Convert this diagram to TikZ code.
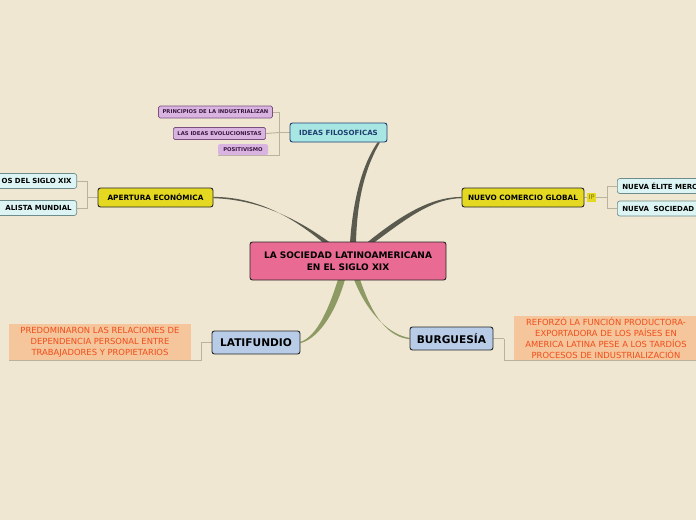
\documentclass[tikz,border=0pt]{standalone}
\usepackage{fontspec}
\setmainfont{DejaVu Sans}
\usepackage{xcolor}
\usetikzlibrary{calc}

\definecolor{paper}{HTML}{EFE7D2}
\definecolor{rootpink}{HTML}{E96A93}
\definecolor{ideacyan}{HTML}{A8E6E4}
\definecolor{ideablue}{HTML}{1F3E6E}
\definecolor{lilac}{HTML}{D9B4E1}
\definecolor{lilacline}{HTML}{7A4F80}
\definecolor{lilactext}{HTML}{3A1840}
\definecolor{yellowbox}{HTML}{E4D820}
\definecolor{palecyan}{HTML}{DCF4F3}
\definecolor{paleline}{HTML}{6E8C8C}
\definecolor{bluegrey}{HTML}{B8CCE7}
\definecolor{notefill}{HTML}{F5C59B}
\definecolor{notetext}{HTML}{F04E1A}
\definecolor{darkbranch}{HTML}{5B5A4F}
\definecolor{greenbranch}{HTML}{8E9A63}
\definecolor{twig}{HTML}{B9B29C}

\pgfdeclarelayer{paperlayer}
\pgfdeclarelayer{branchlayer}
\pgfsetlayers{paperlayer,branchlayer,main}

\begin{document}
\begin{tikzpicture}[
  x=1pt, y=-1pt,
  box/.style={draw, rounded corners=2.5pt, line width=0.9pt, inner sep=0pt, align=center},
  rootbox/.style={box, fill=rootpink, draw=black!85, minimum width=196pt, minimum height=38pt, font=\bfseries\fontsize{9}{11.5}\selectfont},
  ideabox/.style={box, fill=ideacyan, draw=ideablue, text=ideablue, minimum width=97pt, minimum height=19pt, font=\bfseries\fontsize{7.1}{8}\selectfont},
  smallbox/.style={box, rounded corners=1.5pt, line width=0.7pt, fill=lilac, draw=lilacline, text=lilactext, minimum height=12pt, inner xsep=4pt, font=\bfseries\fontsize{5.3}{6}\selectfont},
  yellbox/.style={box, fill=yellowbox, draw=black!85, minimum height=19pt, font=\bfseries\fontsize{7.3}{8}\selectfont},
  cyanbox/.style={box, line width=0.7pt, fill=palecyan, draw=paleline, minimum height=15pt, inner xsep=5pt, text width=100pt, font=\bfseries\fontsize{7}{8}\selectfont},
  subbox/.style={box, fill=bluegrey, draw=black!85, minimum height=23pt, font=\bfseries\fontsize{10.6}{12}\selectfont},
  note/.style={fill=notefill, text=notetext, inner sep=0pt, align=center, font=\fontsize{8.4}{10.8}\selectfont},
  twigline/.style={draw=twig, line width=0.9pt},
  darkfan/.style={fill=darkbranch},
  greenfan/.style={fill=greenbranch}
]
\useasboundingbox (0,0) rectangle (696,520);
\begin{pgfonlayer}{paperlayer}
  \fill[paper] (0,0) rectangle (696,520);
\end{pgfonlayer}
\clip (0,0) rectangle (696,520);

% central topic
\node[rootbox] (root) at (348,261) {LA SOCIEDAD LATINOAMERICANA\\EN EL SIGLO XIX};

% main topics
\node[ideabox] (ideas) at (338.5,132.5) {IDEAS FILOSOFICAS};
\node[yellbox, minimum width=115pt] (apertura) at (155.5,197.5) {APERTURA ECON\'OMICA};
\node[yellbox, minimum width=122pt] (comercio) at (523,197.5) {NUEVO COMERCIO GLOBAL};
\node[subbox, minimum width=88pt] (latif) at (256,342.5) {LATIFUNDIO};
\node[subbox, minimum width=83pt] (burg) at (451.5,338.5) {BURGUES\'IA};

% ideas filosoficas
\node[smallbox, minimum width=113pt] (princ) at (215.5,112) {PRINCIPIOS DE LA INDUSTRIALIZAN};
\node[smallbox, minimum width=91pt] (evol) at (219.5,133.5) {LAS IDEAS EVOLUCIONISTAS};
\node[smallbox, draw=none, minimum width=50pt, minimum height=11pt] (posit) at (243,149.5) {POSITIVISMO};

% apertura economica
\node[cyanbox, anchor=east, align=right] (siglo) at (77,181) {OS DEL SIGLO XIX};
\node[cyanbox, anchor=east, align=right] (mundial) at (77,208) {ALISTA MUNDIAL};

% nuevo comercio global
\node[fill=yellowbox, text=black!45!yellowbox, inner sep=0.5pt, minimum width=9pt, minimum height=9pt, font=\fontsize{6.5}{7}\selectfont] (ip) at (591.5,197.5) {IP};
\node[cyanbox, anchor=west, align=left] (elite) at (617,186) {NUEVA \'ELITE MERCA};
\node[cyanbox, anchor=west, align=left] (socied) at (617,208.5) {NUEVA\ \ SOCIEDAD};

% notes
\node[note, minimum width=182pt, minimum height=36pt] (predom) at (100,342)
  {PREDOMINARON LAS RELACIONES DE\\DEPENDENCIA PERSONAL ENTRE\\TRABAJADORES Y PROPIETARIOS};
\node[note, minimum width=184pt, minimum height=44pt] (reforzo) at (606,338)
  {REFORZ\'O LA FUNCI\'ON PRODUCTORA-\\EXPORTADORA DE LOS PA\'ISES EN\\AMERICA LATINA PESE A LOS TARD\'IOS\\PROCESOS DE INDUSTRIALIZACI\'ON};

\begin{pgfonlayer}{branchlayer}
% tapered branches
\fill[darkfan] ($(root.north)+(2,1)$) .. controls (353,200) and (362,165) .. ($(ideas.south east)+(-10,0)$)
  -- ($(ideas.south east)+(-7.5,0)$) .. controls (365,168) and (357,200) .. ($(root.north)+(8,1)$) -- cycle;
\fill[darkfan] ($(root.north)+(-25,1)$) .. controls (290,215) and (255,197) .. ($(apertura.east)+(0,-0.6)$)
  -- ($(apertura.east)+(0,0.7)$) .. controls (258,199.5) and (296,218) .. ($(root.north)+(-18,1)$) -- cycle;
\fill[darkfan] ($(root.north)+(19,1)$) .. controls (400,216) and (430,197) .. ($(comercio.west)+(0,-0.6)$)
  -- ($(comercio.west)+(0,0.7)$) .. controls (432,198.5) and (406,219) .. ($(root.north)+(26,1)$) -- cycle;
\fill[greenfan] ($(root.south)+(-10,-1)$) .. controls (330,305) and (318,336) .. ($(latif.east)+(0,-0.6)$)
  -- ($(latif.east)+(0,0.7)$) .. controls (321,337.5) and (337,308) .. ($(root.south)+(-3,-1)$) -- cycle;
\fill[greenfan] ($(root.south)+(6,-1)$) .. controls (364,306) and (385,334) .. ($(burg.west)+(0,-0.6)$)
  -- ($(burg.west)+(0,0.7)$) .. controls (383,336.5) and (369,306) .. ($(root.south)+(12,-1)$) -- cycle;

% thin connectors
\coordinate (ideasfork) at (279,132.5);
\draw[twigline] (ideas.west) -- (ideasfork);
\draw[twigline] (ideasfork) |- (princ.east);
\draw[twigline] (ideasfork) -- (evol.east);
\draw[twigline] (ideasfork) |- (posit.south east) -- (posit.south west);

\coordinate (aperfork) at (87,197.5);
\draw[twigline] (apertura.west) -- (aperfork);
\draw[twigline] (aperfork) |- (siglo.east);
\draw[twigline] (aperfork) |- (mundial.east);

\coordinate (comfork) at (607,197.5);
\draw[twigline] (comercio.east) -- (ip.west);
\draw[twigline] (ip.east) -- (comfork);
\draw[twigline] (comfork) |- (elite.west);
\draw[twigline] (comfork) |- (socied.west);

\coordinate (latfork) at (201,342.5);
\draw[twigline] (latif.west) -- (latfork);
\draw[twigline] (latfork) |- (predom.south east) -- (predom.south west);

\coordinate (burgfork) at (504,338.5);
\draw[twigline] (burg.east) -- (burgfork);
\draw[twigline] (burgfork) |- (reforzo.south west) -- (reforzo.south east);
\end{pgfonlayer}
\end{tikzpicture}
\end{document}
